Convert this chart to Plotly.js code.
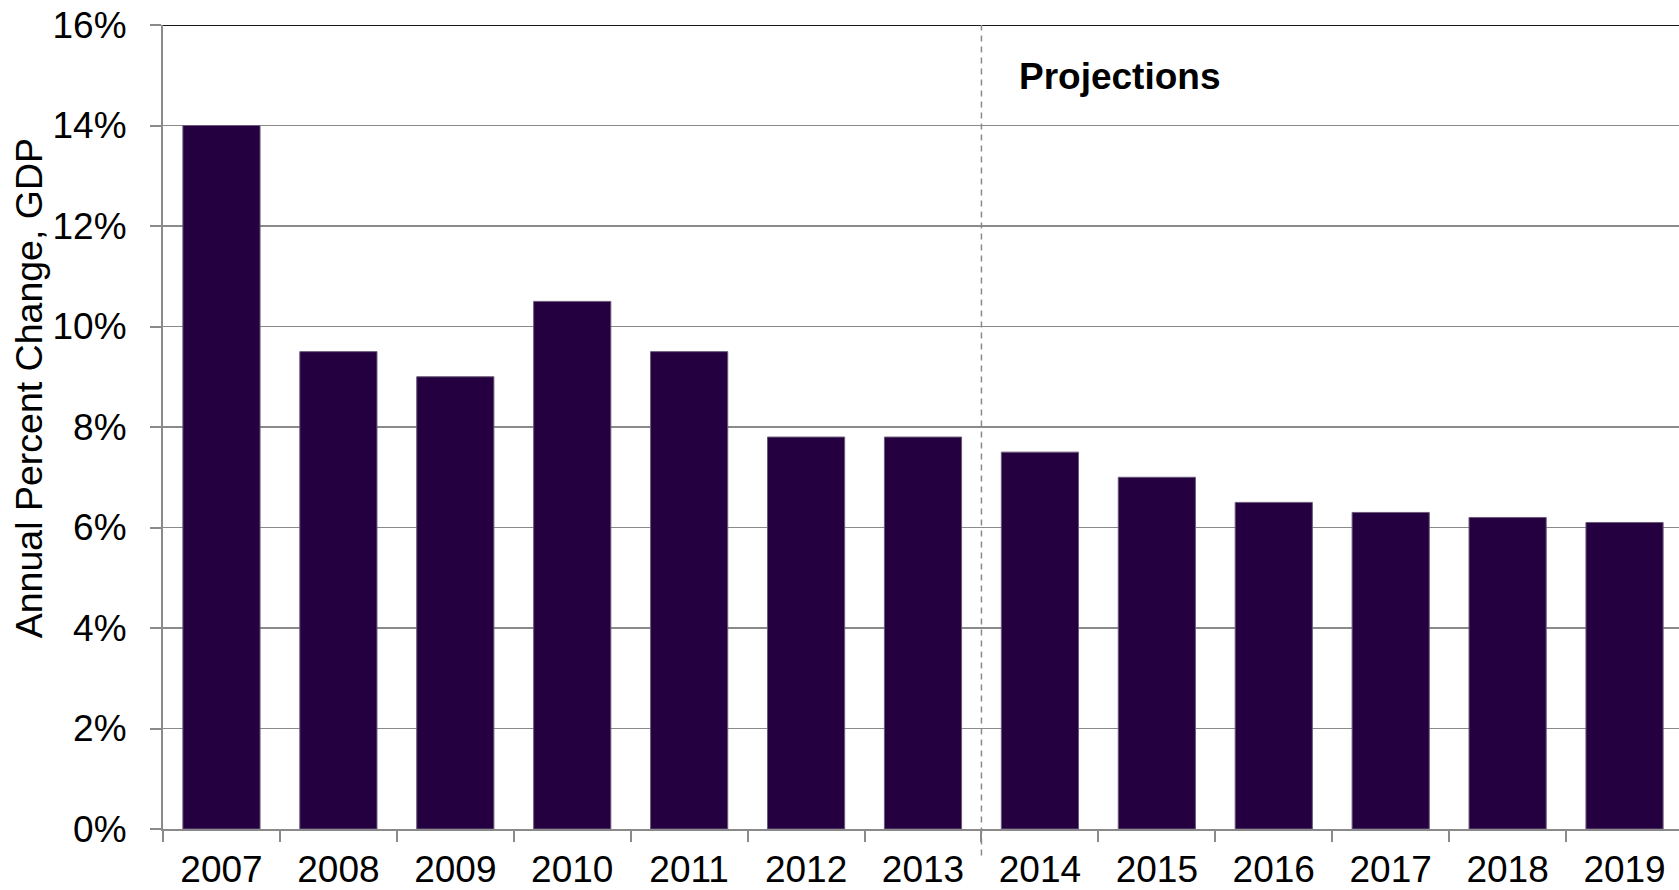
<!DOCTYPE html>
<html>
<head>
<meta charset="utf-8">
<script src="https://cdn.plot.ly/plotly-3.0.1.min.js"></script>
<style>
html, body { margin: 0; padding: 0; overflow: hidden; background: #fff; }
#chart { width: 1683px; height: 890px; }
</style>
</head>
<body>
<div id="chart"></div>
<script>
const years = ["2007","2008","2009","2010","2011","2012","2013","2014","2015","2016","2017","2018","2019"];
const gdpChange = [14.0, 9.5, 9.0, 10.5, 9.5, 7.8, 7.8, 7.5, 7.0, 6.5, 6.3, 6.2, 6.1];
const yTickVals = [0, 2, 4, 6, 8, 10, 12, 14, 16];
const yTickText = ["0%", "2%", "4%", "6%", "8%", "10%", "12%", "14%", "16%"];
const projectionLabel = "Projections";
const yTitle = "Annual Percent Change, GDP";

const FONT = '"Liberation Sans", Arial, sans-serif';

const trace = {
  type: 'bar',
  x: years,
  y: gdpChange,
  marker: { color: '#240040', line: { color: '#6a5a78', width: 1 } },
  hoverinfo: 'x+y'
};

const layout = {
  width: 1683,
  height: 890,
  margin: { l: 163, r: 0, t: 25, b: 61 },
  paper_bgcolor: '#ffffff',
  plot_bgcolor: '#ffffff',
  bargap: 0.34,
  showlegend: false,
  font: { family: FONT, size: 37, color: '#000' },
  xaxis: {
    type: 'category',
    tickson: 'boundaries',
    ticks: 'outside',
    ticklen: 11,
    tickwidth: 2,
    tickcolor: '#8a8a8a',
    showline: true,
    linecolor: '#8a8a8a',
    linewidth: 2,
    showgrid: false,
    zeroline: false,
    ticklabelstandoff: 7,
    tickfont: { family: FONT, size: 37, color: '#000' },
    range: [-0.5, 12.5]
  },
  yaxis: {
    range: [0, 16],
    tickvals: yTickVals,
    ticktext: yTickText,
    ticks: 'outside',
    ticklen: 11,
    tickwidth: 2,
    tickcolor: '#8a8a8a',
    showline: true,
    linecolor: '#8a8a8a',
    linewidth: 2,
    showgrid: true,
    gridcolor: '#8a8a8a',
    gridwidth: 1.6,
    zeroline: false,
    ticklabelstandoff: 16,
    tickfont: { family: FONT, size: 37, color: '#000' }
  },
  shapes: [
    {
      type: 'line', xref: 'paper', yref: 'y',
      x0: 0, x1: 1, y0: 16, y1: 16,
      line: { color: '#1a1a1a', width: 2 }
    },
    {
      type: 'line', xref: 'x', yref: 'paper',
      x0: 6.5, x1: 6.5, y0: -0.033, y1: 1,
      line: { color: '#8a8a8a', width: 1.5, dash: '6px,5px' }
    }
  ],
  annotations: [
    {
      text: '<b>' + projectionLabel + '</b>',
      xref: 'x', yref: 'y',
      x: 6.8, y: 14.97,
      xanchor: 'left', yanchor: 'middle',
      showarrow: false,
      font: { family: FONT, size: 37, color: '#000' }
    },
    {
      text: yTitle,
      xref: 'paper', yref: 'paper',
      x: -0.088, y: 0.5485,
      xanchor: 'center', yanchor: 'middle',
      textangle: -90,
      showarrow: false,
      font: { family: FONT, size: 37.5, color: '#000' }
    }
  ]
};

Plotly.newPlot('chart', [trace], layout, { displayModeBar: false, staticPlot: true });
</script>
</body>
</html>
